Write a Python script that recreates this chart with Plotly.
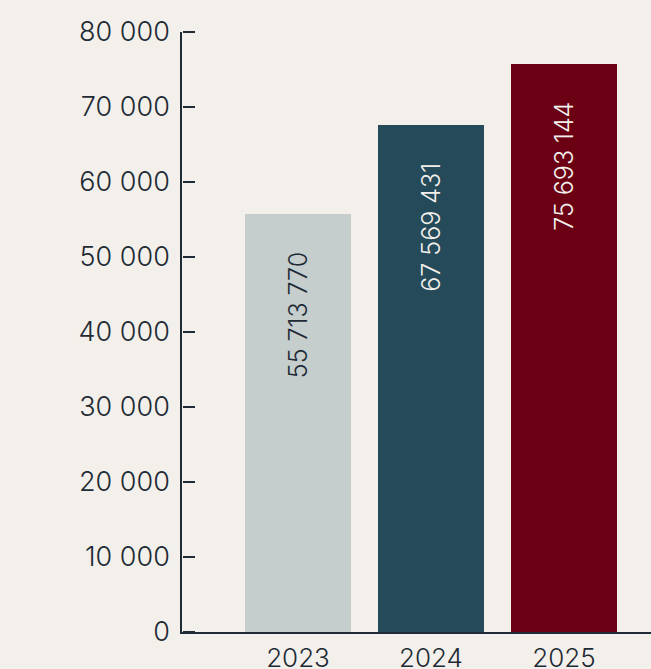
import plotly.graph_objects as go

years = ["2023", "2024", "2025"]
values_full = [55713770, 67569431, 75693144]
values_k = [v / 1000 for v in values_full]
bar_colors = ["#c5cecd", "#254a5a", "#6b0014"]
label_colors = ["#1e2a35", "#f3f0ec", "#f3f0ec"]
y_ticks = [0, 10000, 20000, 30000, 40000, 50000, 60000, 70000, 80000]

FONT = "Inter"
DARK = "#1e2a35"
BG = "#f3f0eb"
FS = 27
FW = 300

fig = go.Figure()
fig.add_trace(go.Bar(
    x=years, y=values_k, marker=dict(color=bar_colors, line=dict(width=0)),
    width=0.797, hoverinfo="skip",
))
# invisible helper trace so the tick-mark axis (y2) is drawn
fig.add_trace(go.Scatter(
    x=years, y=values_k, yaxis="y2", mode="markers",
    marker=dict(opacity=0), hoverinfo="skip", showlegend=False,
))

for i, (vk, vf, c) in enumerate(zip(values_k, values_full, label_colors)):
    txt = f"{vf:,}".replace(",", " ")
    fig.add_annotation(
        x=i, y=vk, xref="x", yref="y", text=txt, textangle=-90, showarrow=False,
        xanchor="center", yanchor="top", yshift=-36,
        font=dict(family=FONT, size=25, color=c, weight=FW),
    )

fig.update_layout(
    width=651, height=669,
    margin=dict(l=182, r=0, t=32, b=37),
    paper_bgcolor=BG, plot_bgcolor=BG,
    separators=", ",
    showlegend=False,
    bargap=0,
    font=dict(family=FONT, color=DARK, size=FS, weight=FW),
    yaxis2=dict(
        overlaying="y", anchor="free", position=0, side="right",
        range=[0, 80000], tickvals=y_ticks,
        showline=False, showgrid=False, zeroline=False,
        showticklabels=False, ticks="outside", ticklen=12,
        tickcolor=DARK, tickwidth=1.5, automargin=False, fixedrange=True,
    ),
)
fig.update_xaxes(
    type="category", range=[-0.872, 2.654],
    showline=True, linecolor=DARK, linewidth=1.5,
    showgrid=False, zeroline=False, ticks="",
    tickfont=dict(family=FONT, size=26, color=DARK, weight=FW),
    ticklabelstandoff=2,
    automargin=False,
    fixedrange=True,
)
fig.update_yaxes(
    selector=dict(overlaying=None),
    range=[0, 80000], tickvals=y_ticks, tickformat=",d",
    showline=True, linecolor=DARK, linewidth=1.5,
    ticks="", 
    ticklabelstandoff=5,
    automargin=False,
    showgrid=False, zeroline=False,
    tickfont=dict(family=FONT, size=FS, color=DARK, weight=FW),
    fixedrange=True,
)

fig.write_html(
    "out.html",
    config={"displayModeBar": False},
    post_script="document.body.style.margin='0';document.body.style.background='#f3f0eb';",
)
